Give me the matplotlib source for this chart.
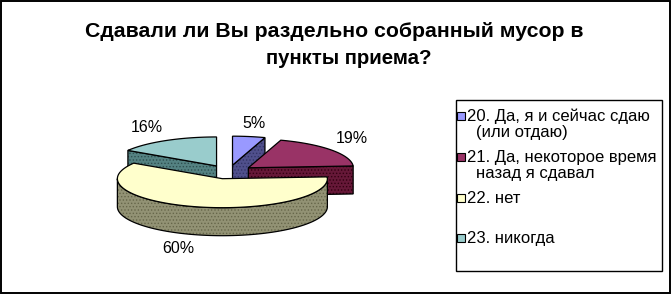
import numpy as np
import matplotlib.pyplot as plt
from matplotlib.patches import Polygon, Rectangle

plt.rcParams['font.family'] = ['Liberation Sans', 'DejaVu Sans']
plt.rcParams['hatch.linewidth'] = 0.6

# data
title_lines = ["Сдавали ли Вы раздельно собранный мусор в", "пункты приема?"]
legend_labels = ["20. Да, я и сейчас сдаю\n(или отдаю)",
                 "21. Да, некоторое время\nназад я сдавал",
                 "22. нет",
                 "23. никогда"]
shares = [5, 19, 60, 16]
top_colors = ["#9999FF", "#993366", "#FFFFCC", "#99CCCC"]
side_colors = ["#50508c", "#661838", "#929274", "#548282"]
dot_colors = ["#333366", "#330011", "#66664a", "#2e5050"]

fig = plt.figure(figsize=(6.71, 2.95), dpi=100)
ax = fig.add_axes([0, 0, 1, 1])
ax.set_xlim(0, 671)
ax.set_ylim(295, 0)
ax.axis('off')

# outer frame
ax.add_patch(Rectangle((0.7, 0.7), 669, 292.6, fill=False, ec='black', lw=1.4))

# title, two lines placed separately (excel centres them a bit differently)
ax.text(334, 37, title_lines[0], ha='center', va='baseline', fontsize=15.3, fontweight='bold')
ax.text(349, 63.7, title_lines[1], ha='center', va='baseline', fontsize=14.7, fontweight='bold')

# pseudo 3d pie, pixel units
cx, cy = 228.6, 172.0
rx, ry = 105.0, 29.0
depth = 28.0
explode = 25.0
lw = 0.9

def arc(x0, y0, a0, a1, dz=0.0):
    t = np.radians(np.linspace(a0, a1, max(2, int(abs(a1 - a0)) + 2)))
    return np.column_stack([x0 + rx * np.cos(t), y0 - ry * np.sin(t) + dz])

def side(pts, i):
    # dithered look of the old excel side faces
    ax.add_patch(Polygon(pts, closed=True, fc=side_colors[i], ec=dot_colors[i],
                         lw=0, hatch='.....'))
    ax.add_patch(Polygon(pts, closed=True, fill=False, ec='black', lw=lw))

fracs = np.array(shares, dtype=float) / sum(shares)
slices = []
start = 90.0
for i, f in enumerate(fracs):
    a_hi = start
    a_lo = start - f * 360.0
    start = a_lo
    mid = np.radians((a_lo + a_hi) / 2)
    x0 = cx + explode * np.cos(mid)
    y0 = cy - explode * ry / rx * np.sin(mid)
    key = y0 - 0.5 * ry * np.sin(mid)
    slices.append((key, i, a_lo, a_hi, x0, y0, mid))

for key, i, a_lo, a_hi, x0, y0, mid in sorted(slices):
    # outer wall, front half only
    for k in (-1, 0, 1):
        lo = max(a_lo, k * 360 - 180)
        hi = min(a_hi, k * 360)
        if hi > lo:
            top = arc(x0, y0, lo, hi)
            bot = arc(x0, y0, hi, lo, depth)
            side(np.vstack([top, bot]), i)
    # radial cut faces
    for a, vis in ((a_lo, np.cos(np.radians(a_lo)) > 1e-6),
                   (a_hi, np.cos(np.radians(a_hi)) < -1e-6)):
        if vis:
            px = x0 + rx * np.cos(np.radians(a))
            py = y0 - ry * np.sin(np.radians(a))
            side(np.array([(x0, y0), (px, py), (px, py + depth), (x0, y0 + depth)]), i)
    # top face
    pts = np.vstack([[x0, y0], arc(x0, y0, a_lo, a_hi)])
    ax.add_patch(Polygon(pts, closed=True, fc=top_colors[i], ec='black', lw=lw))

    # percent label
    c, s = np.cos(mid), np.sin(mid)
    lx = x0 + rx * c + 6 * c
    ly = y0 - ry * s - 6 * s + (depth if s < 0 else 0)
    ha = 'left' if c > 0.2 else ('right' if c < -0.2 else 'center')
    va = 'bottom' if s > 0 else 'top'
    if ha == 'center':
        lx += 4
    ax.text(lx, ly, "%d%%" % shares[i], ha=ha, va=va, fontsize=11.5)

# legend
ax.add_patch(Rectangle((455.5, 99.5), 206, 171.5, fill=False, ec='black', lw=1.0))
baselines = [121.3, 162.3, 202.7, 243.3]
for i, lab in enumerate(legend_labels):
    y = baselines[i]
    ax.add_patch(Rectangle((457.3, y - 9), 8, 8, fc=top_colors[i], ec='black', lw=0.8))
    lines = lab.split("\n")
    ax.text(467.3, y, lines[0], ha='left', va='baseline', fontsize=12)
    for j, ln in enumerate(lines[1:]):
        ax.text(476, y + 16 * (j + 1), ln, ha='left', va='baseline', fontsize=12)

fig.savefig("out.png", dpi=100)
